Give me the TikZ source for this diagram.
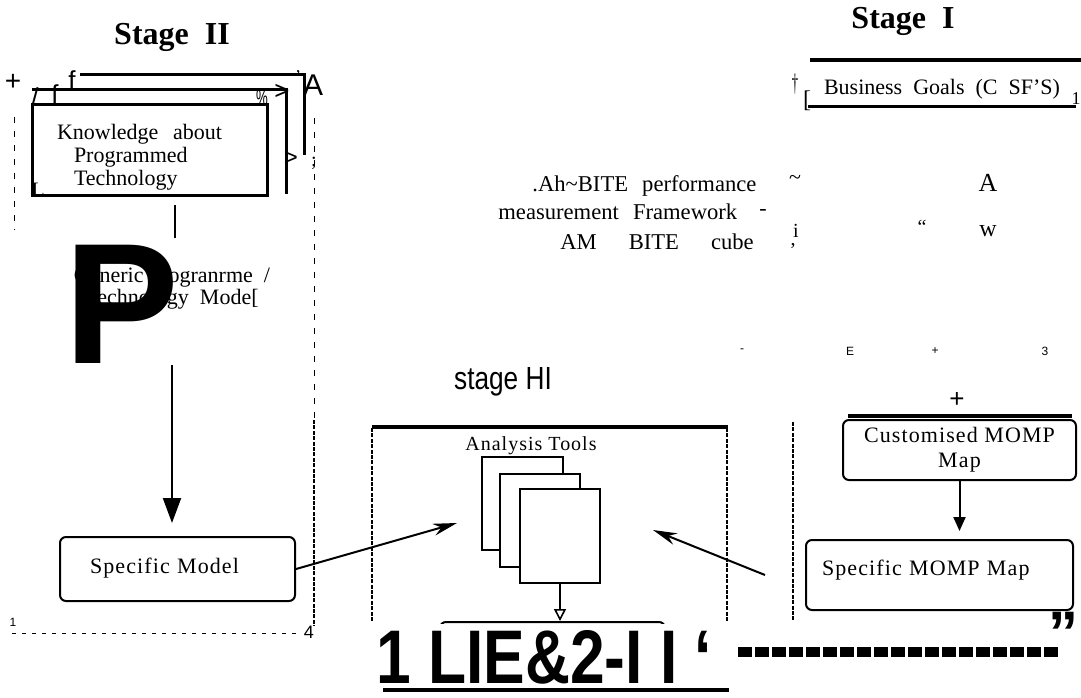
\documentclass[tikz,border=0pt]{standalone}
\usepackage{fontspec}
\setmainfont{Liberation Serif}
\newfontfamily\plainsans{Liberation Sans}
\newfontfamily\spaced[LetterSpace=5]{Liberation Serif}
\newfontfamily\widespaced[WordSpace=2.5]{Liberation Serif}
\usetikzlibrary{arrows.meta}
\usetikzlibrary{shapes}

\tikzset{
	stagebox/.style={draw, line width=1pt, rounded corners=3pt},
	fence/.style={line width=0.7pt, dash pattern=on 2pt off 0.7pt},
	thinfence/.style={line width=0.4pt, dash pattern=on 3pt off 4pt},
	heavy/.style={line width=1.5pt},
	glyph/.style={inner sep=0pt, font=\plainsans\fontsize{13}{13}\selectfont},
}

\begin{document}
\begin{tikzpicture}[x=0.5pt,y=-0.5pt]
	\useasboundingbox (0,0) rectangle (1081,697);

	%% Stage II : programme side
	\path (172,37) node(stageII) [font=\bfseries\fontsize{16}{16}\selectfont] {Stage\ \ II};
	% sheets behind the knowledge box
	\draw[heavy] (80,74) -- (304,74) -- (304,155);
	\draw[heavy] (32,89) -- (286,89) -- (286,194);
	\path (149.5,149.5) node(knowledge) [draw, heavy, fill=white, minimum width=117.5pt,
		minimum height=45.5pt, inner xsep=12.5pt, inner ysep=1pt, text width=92.5pt,
		align=left, font=\fontsize{11}{11.5}\selectfont]
		{\rule{0pt}{15.5pt}Knowledge\ \ about\\\hspace{8.5pt}Programmed\\\hspace{8.5pt}Technology};
	% stray marks round the sheets
	\path (13,82) node(plusmark) [glyph, font=\plainsans\fontsize{14}{14}\selectfont] {+};
	\path (72,80) node(fback) [glyph] {f};
	\path (55,94) node(ffront) [glyph] {f};
	\path (35,97) node(slashmark) [glyph] {/};
	\path (262,98) node(pctmark) [glyph, font=\plainsans\fontsize{11}{11}\selectfont] {\scalebox{0.6}[1]{\%}};
	\path (282,92) node(tipmid) [glyph] {>};
	\path (298,77) node(tickmark) [glyph, font=\fontsize{9}{9}\selectfont] {'};
	\path (313,85) node(apexleft) [glyph, font=\plainsans\fontsize{15}{15}\selectfont] {A};
	\path (291,158) node(tipback) [glyph, font=\plainsans\fontsize{12}{12}\selectfont] {>};
	\path (314,163) node(semimark) [glyph, font=\fontsize{10}{10}\selectfont] {;};
	\path (38,190) node(cornerL) [glyph, font=\fontsize{11}{11}\selectfont] {L};

	% dashed frame of stage II
	\draw[thinfence] (14,117) -- (14,230);
	\draw[thinfence] (314,118) -- (314,420);
	\draw[fence] (314,420) -- (314,626);
	\draw[line width=0.5pt, dash pattern=on 2pt off 3pt] (12,633) -- (300,633);
	\path (13,622) node(cornerone) [glyph, font=\plainsans\fontsize{6}{6}\selectfont] {1};
	\path (309,632) node(cornerfour) [glyph, font=\plainsans\fontsize{9}{9}\selectfont] {4};

	\coordinate (linktop) at (175,205);
	\coordinate (linkend) at (175,238);
	\draw[line width=0.6pt] (linktop) -- (linkend);

	\path (172,289) node(generic) [align=center, font=\fontsize{11}{11}\selectfont]
		{Generic\ Progranrme\ \ /\\Technology\ \ Mode[};
	\path (64,363) node(bigP) [anchor=base west, inner sep=0pt,
		font=\plainsans\bfseries\fontsize{86}{86}\selectfont] {P};

	\path (177.5,569) node(specmodel) [stagebox, minimum width=117.5pt, minimum height=32pt,
		text width=87.5pt, inner xsep=15pt, text depth=3pt, align=left,
		font=\spaced\fontsize{11}{11}\selectfont] {Specific Model};
	\coordinate (generictail) at (172,365);
	\coordinate (modeltip) at (172,523);
	\draw[line width=1pt, -{Triangle[length=12.5pt,width=9pt]}] (generictail) -- (modeltip);

	%% Stage III : analysis
	\path (503,382) node(stageIII) [font=\plainsans\fontsize{16}{16}\selectfont] {\scalebox{0.82}[1]{stage\ HI}};
	\draw[line width=2pt] (372,427) -- (728,427);
	\draw[fence] (372,428) -- (372,622);
	\draw[fence] (727,428) -- (727,622);
	\path (531,446) node(tools) [font=\spaced\fontsize{10}{10}\selectfont] {Analysis Tools};
	\draw[fill=white, line width=0.8pt] (482,457) rectangle (563,550);
	\draw[fill=white, line width=0.8pt] (500,474) rectangle (580,567);
	\path (560,536) node(toolfront) [draw, fill=white, line width=0.8pt, minimum width=40pt, minimum height=47pt] {};
	\path (552.5,652) node(result) [stagebox, minimum width=112.5pt, minimum height=30pt] {};
	\draw[line width=0.8pt, -{Triangle[open,length=6pt,width=6pt]}] (toolfront.south) -- (toolfront.south |- result.north);

	\coordinate (toolsleft) at (457,523);
	\coordinate (toolsright) at (653,530);
	\coordinate (mompfeed) at (765,575);
	\draw[line width=1pt, -{Stealth[length=12pt,width=6pt]}] (specmodel.east) -- (toolsleft);
	\draw[line width=1pt, -{Stealth[length=12pt,width=6pt]}] (mompfeed) -- (toolsright);

	% heavy caption over the bottom
	\path (370,683) node(caption) [anchor=base west, fill=white, inner sep=3pt,
		font=\plainsans\bfseries\fontsize{38}{38}\selectfont] {\scalebox{0.82}[1]{1 LIE\&2-I I ‘}};
	\draw[line width=2pt] (383,690) -- (729,690);
	\draw[line width=5pt, dash pattern=on 7pt off 1.5pt] (738,652) -- (1058,652);
	\path (1063,633) node(closequote) [glyph, font=\plainsans\bfseries\fontsize{30}{30}\selectfont] {”};

	%% Stage I : business side
	\path (903,21) node(stageI) [font=\bfseries\fontsize{16}{16}\selectfont] {Stage\ \ I};
	\path (942,83) node(goals) [minimum width=133.5pt, minimum height=22.5pt, text height=14pt,
		font=\fontsize{11}{11}\selectfont] {Business\ \ Goals\ \ (C\ \ SF’S)};
	\draw[line width=2pt] ([xshift=1pt]goals.north west) -- ([xshift=3pt]goals.north east);
	\draw[line width=1.2pt] (goals.south west) -- (goals.south east);
	\path (807,101) node(goalsbra) [glyph, font=\fontsize{12}{12}\selectfont] {[};
	\path (1076,99) node(goalsone) [glyph, font=\fontsize{9}{9}\selectfont] {1};
	\path (795,84) node(goalsdagger) [glyph, font=\fontsize{9}{9}\selectfont] {\scalebox{0.7}[1.4]{†}};

	\path (532,186) node(biteone) [anchor=west, inner sep=0pt, font=\widespaced\fontsize{11.3}{11.3}\selectfont]
		{.Ah\textasciitilde BITE performance};
	\path (795,180) node(biteonetail) [glyph, font=\fontsize{11}{11}\selectfont] {\textasciitilde};
	\path (498,212) node(bitetwo) [anchor=west, inner sep=0pt, font=\widespaced\fontsize{11.3}{11.3}\selectfont]
		{measurement Framework};
	\path (763,212) node(bitetwotail) [glyph, font=\fontsize{11}{11}\selectfont] {-};
	\path (560,242) node(bitethree) [anchor=west, inner sep=0pt, font=\fontsize{11.3}{11.3}\selectfont]
		{AM\hspace{16pt}BITE\hspace{16pt}cube};
	\path (796,231) node(bitei) [glyph, font=\fontsize{10}{10}\selectfont] {i};
	\path (793,246) node(bitecomma) [glyph, font=\fontsize{10}{10}\selectfont] {,};

	\path (988,183) node(apexright) [glyph, font=\fontsize{13}{13}\selectfont] {A};
	\path (922,227) node(quoteopen) [glyph, font=\fontsize{10}{10}\selectfont] {“};
	\path (988,231) node(wee) [glyph, font=\fontsize{12}{12}\selectfont] {w};
	% faint row of marks
	\path (742,351) node(rowdash) [glyph, font=\plainsans\fontsize{6}{6}\selectfont] {-};
	\path (850,351) node(rowE) [glyph, font=\plainsans\fontsize{6}{6}\selectfont] {E};
	\path (935,351) node(rowplus) [glyph, font=\plainsans\fontsize{6}{6}\selectfont] {+};
	\path (1045,351) node(rowthree) [glyph, font=\plainsans\fontsize{6}{6}\selectfont] {3};

	\path (957,400) node(plusmomp) [glyph, font=\plainsans\fontsize{13}{13}\selectfont] {+};
	\draw[line width=2pt] (848,416) -- (1072,416);
	\path (959.5,450) node(custom) [stagebox, minimum width=116.5pt, minimum height=30pt, align=center,
		font=\spaced\fontsize{11}{12.5}\selectfont] {Customised MOMP\\Map};
	\path (939.5,575) node(specmomp) [stagebox, minimum width=133.5pt, minimum height=35pt,
		text width=117.5pt, inner xsep=8pt, text depth=7pt, align=left,
		font=\spaced\fontsize{11}{11}\selectfont] {Specific MOMP Map};
	\draw[line width=1pt, shorten >=4pt, -{Triangle[length=7pt,width=6pt]}] (custom.south) -- (custom.south |- specmomp.north);
	\draw[fence] (793,422) -- (793,620);
\end{tikzpicture}
\end{document}
